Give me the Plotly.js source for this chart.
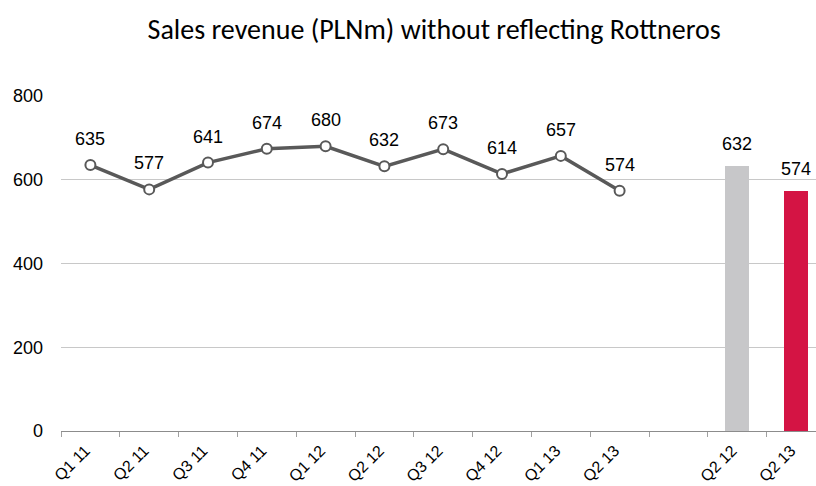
<!DOCTYPE html>
<html>
<head>
<meta charset="utf-8">
<script src="https://cdn.plot.ly/plotly-3.0.1.min.js"></script>
<style>html,body{margin:0;padding:0;background:#fff;}#chart{width:816px;height:486px;}</style>
</head>
<body>
<div id="chart"></div>
<script>
const quarters = ["Q1 11","Q2 11","Q3 11","Q4 11","Q1 12","Q2 12","Q3 12","Q4 12","Q1 13","Q2 13"];
const revenue = [635, 577, 641, 674, 680, 632, 673, 614, 657, 574];
const compareLabels = ["Q2 12","Q2 13"];
const compareValues = [632, 574];
const compareColors = ["#c7c7c9", "#d41444"];

const tickLabels = quarters.concat([""], compareLabels);
const lineX = quarters.map((_, i) => i);
const barX = compareLabels.map((_, i) => quarters.length + 1 + i);
const tickVals = tickLabels.map((_, i) => i);
const boundaryVals = [];
for (let i = 0; i <= tickLabels.length; i++) boundaryVals.push(i - 0.5);

const font = "Liberation Sans, Arial, sans-serif";

const traces = [
  {
    type: "scatter",
    mode: "lines+markers",
    x: lineX,
    y: revenue,
    line: {color: "#595959", width: 3.5},
    marker: {size: 10, color: "#fff", line: {color: "#595959", width: 2}},
    cliponaxis: false,
    hoverinfo: "skip"
  },
  {
    type: "bar",
    x: barX,
    y: compareValues,
    width: 0.41,
    marker: {color: compareColors},
    hoverinfo: "skip"
  }
];

const annotations = [];
lineX.forEach((x, i) => annotations.push({
  x: x, y: revenue[i], xref: "x", yref: "y", text: String(revenue[i]),
  showarrow: false, yanchor: "bottom", yshift: 14,
  font: {family: font, size: 18, color: "#000"}
}));
barX.forEach((x, i) => annotations.push({
  x: x, y: compareValues[i], xref: "x", yref: "y", text: String(compareValues[i]),
  showarrow: false, yanchor: "bottom", yshift: 10,
  font: {family: font, size: 18, color: "#000"}
}));

const layout = {
  width: 816,
  height: 486,
  margin: {l: 61, r: 0, t: 96, b: 55},
  paper_bgcolor: "#fff",
  plot_bgcolor: "#fff",
  showlegend: false,
  annotations: annotations,
  title: {
    text: "Sales revenue (PLNm) without reflecting Rottneros",
    font: {family: "Carlito, Lato, sans-serif", size: 28, color: "#000"},
    xref: "container", x: 0.532, xanchor: "center",
    y: 0.94, yanchor: "middle"
  },
  xaxis: {
    type: "linear",
    range: [-0.5, 12.34],
    tickmode: "array",
    tickvals: tickVals,
    ticktext: tickLabels,
    tickangle: -45,
    ticks: "",
    ticklabelstandoff: 3,
    ticklabelshift: -5,
    showgrid: false,
    zeroline: false,
    showline: true,
    linecolor: "#8c8c8c",
    linewidth: 1,
    tickfont: {family: font, size: 16, color: "#000"},
    minor: {tickmode: "array", tickvals: boundaryVals, ticks: "outside", ticklen: 5, tickcolor: "#a0a0a0", tickwidth: 1, showgrid: false},
    fixedrange: true
  },
  yaxis: {
    range: [0, 800],
    tickvals: [0, 200, 400, 600, 800],
    showgrid: true,
    gridcolor: "#c8c8c8",
    gridwidth: 1,
    zeroline: false,
    showline: false,
    ticks: "",
    ticklabelstandoff: 17,
    tickfont: {family: font, size: 18, color: "#000"},
    fixedrange: true
  },
  bargap: 0
};

Plotly.newPlot("chart", traces, layout, {displayModeBar: false, staticPlot: true});
</script>
</body>
</html>
